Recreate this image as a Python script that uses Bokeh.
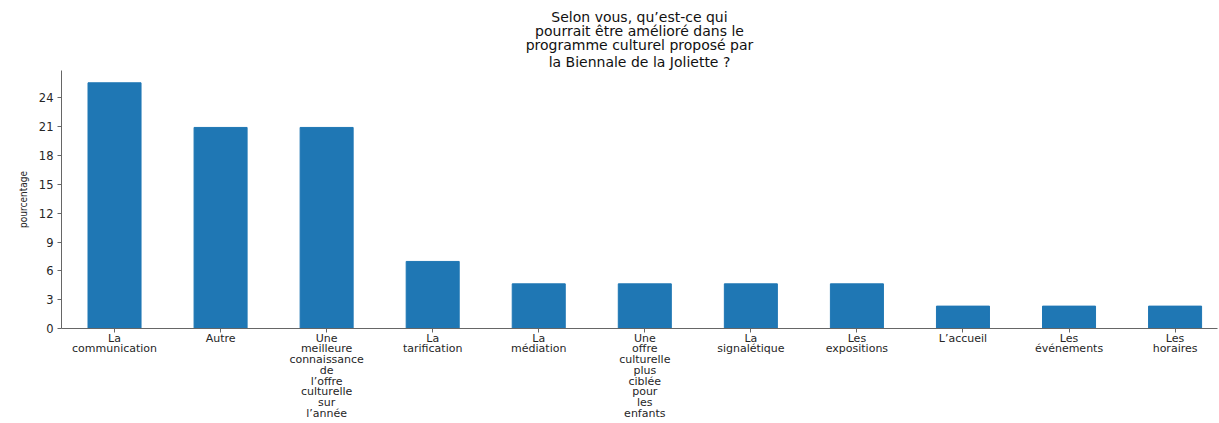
from bokeh.plotting import figure
from bokeh.models import FixedTicker, Range1d, ColumnDataSource, Title
from bokeh.embed import file_html
from bokeh.resources import INLINE

categories = [
    "La\ncommunication",
    "Autre",
    "Une\nmeilleure\nconnaissance\nde\nl\u2019offre\nculturelle\nsur\nl\u2019année",
    "La\ntarification",
    "La\nmédiation",
    "Une\noffre\nculturelle\nplus\nciblée\npour\nles\nenfants",
    "La\nsignalétique",
    "Les\nexpositions",
    "L\u2019accueil",
    "Les\névénements",
    "Les\nhoraires",
]
values = [25.58, 20.93, 20.93, 6.98, 4.65, 4.65, 4.65, 4.65, 2.33, 2.33, 2.33]
y_ticks = [0, 3, 6, 9, 12, 15, 18, 21, 24]
title_lines = [
    "Selon vous, qu\u2019est-ce qui",
    "pourrait être amélioré dans le",
    "programme culturel proposé par",
    "la Biennale de la Joliette ?",
]

xs = list(range(len(categories)))
src = ColumnDataSource(data=dict(x=xs, top=values))

p = figure(width=1219, height=423, output_backend="svg", toolbar_location=None,
           title=None,
           x_range=Range1d(-0.5, 10.4), y_range=Range1d(0, max(values) * 1.05),
           min_border_left=61, min_border_right=2, min_border_top=70, min_border_bottom=94)
p.vbar(x="x", top="top", width=0.5, source=src, color="#1f77b4")

# title lines, nearest to the frame first
for i, line in enumerate(reversed(title_lines)):
    t = Title(text=line, align="center", text_font="DejaVu Sans", text_font_size="14px",
              text_font_style="normal", text_color="#111111",
              standoff=2 if i == 0 else -4)
    p.add_layout(t, "above")

p.xgrid.visible = False
p.ygrid.visible = False
p.outline_line_color = None

for ax in (p.xaxis, p.yaxis):
    ax.axis_line_color = "#666666"
    ax.major_tick_line_color = "#666666"
    ax.major_tick_out = 4
    ax.major_tick_in = 0
    ax.minor_tick_line_color = None
    ax.major_label_text_font = "DejaVu Sans"
    ax.major_label_text_color = "#262626"

p.xaxis.ticker = FixedTicker(ticks=xs)
p.xaxis.major_label_overrides = {i: c for i, c in enumerate(categories)}
p.xaxis.major_label_text_font_size = "11px"
p.xaxis.major_label_text_line_height = 0.83
p.xaxis.major_label_standoff = -1

p.yaxis.ticker = FixedTicker(ticks=y_ticks)
p.yaxis.major_label_text_font_size = "11.5px"
p.yaxis.major_label_standoff = 4
p.yaxis.axis_label = "pourcentage"
p.yaxis.axis_label_text_font = "DejaVu Sans Condensed"
p.yaxis.axis_label_text_font_size = "10px"
p.yaxis.axis_label_text_font_style = "normal"
p.yaxis.axis_label_text_color = "#262626"
p.yaxis.axis_label_standoff = 7

open("out.html", "w").write(file_html(p, INLINE))
